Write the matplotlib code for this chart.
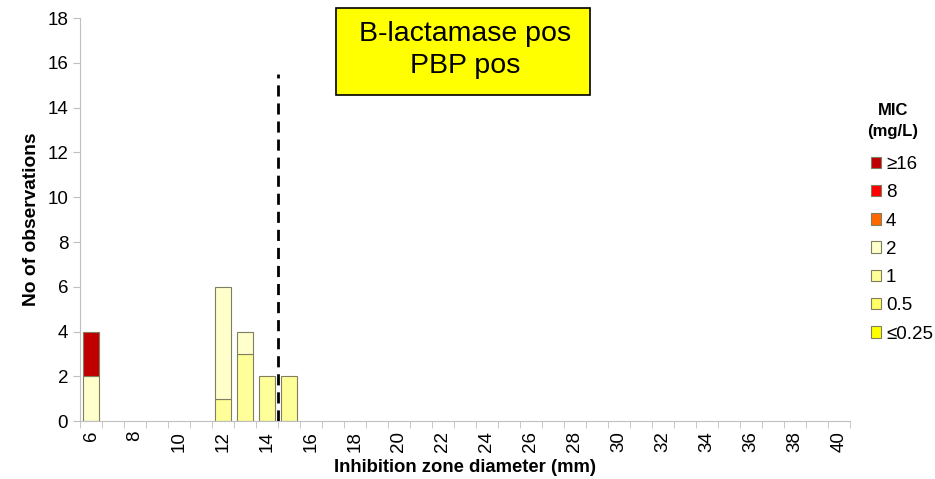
import matplotlib
matplotlib.use("Agg")
import matplotlib.pyplot as plt
from matplotlib.patches import Patch, Rectangle

# ====== DATA ======
diameters = list(range(6, 41))  # inhibition zone diameter (mm)

mic_labels = ["≥16", "8", "4", "2", "1", "0.5", "≤0.25"]
mic_colors = ["#C00000", "#FF0000", "#FF6600", "#FFFFCC", "#FFFF99", "#FFFF66", "#FFFF00"]

#                 6  7  8  9 10 11 12 13 14 15 16 17 18 19 20 21 22 23 24 25 26 27 28 29 30 31 32 33 34 35 36 37 38 39 40
counts_le025 =  [0, 0, 0, 0, 0, 0, 0, 0, 0, 0, 0, 0, 0, 0, 0, 0, 0, 0, 0, 0, 0, 0, 0, 0, 0, 0, 0, 0, 0, 0, 0, 0, 0, 0, 0]
counts_05 =     [0, 0, 0, 0, 0, 0, 0, 0, 0, 0, 0, 0, 0, 0, 0, 0, 0, 0, 0, 0, 0, 0, 0, 0, 0, 0, 0, 0, 0, 0, 0, 0, 0, 0, 0]
counts_1 =      [0, 0, 0, 0, 0, 0, 1, 3, 2, 2, 0, 0, 0, 0, 0, 0, 0, 0, 0, 0, 0, 0, 0, 0, 0, 0, 0, 0, 0, 0, 0, 0, 0, 0, 0]
counts_2 =      [2, 0, 0, 0, 0, 0, 5, 1, 0, 0, 0, 0, 0, 0, 0, 0, 0, 0, 0, 0, 0, 0, 0, 0, 0, 0, 0, 0, 0, 0, 0, 0, 0, 0, 0]
counts_4 =      [0, 0, 0, 0, 0, 0, 0, 0, 0, 0, 0, 0, 0, 0, 0, 0, 0, 0, 0, 0, 0, 0, 0, 0, 0, 0, 0, 0, 0, 0, 0, 0, 0, 0, 0]
counts_8 =      [0, 0, 0, 0, 0, 0, 0, 0, 0, 0, 0, 0, 0, 0, 0, 0, 0, 0, 0, 0, 0, 0, 0, 0, 0, 0, 0, 0, 0, 0, 0, 0, 0, 0, 0]
counts_ge16 =   [2, 0, 0, 0, 0, 0, 0, 0, 0, 0, 0, 0, 0, 0, 0, 0, 0, 0, 0, 0, 0, 0, 0, 0, 0, 0, 0, 0, 0, 0, 0, 0, 0, 0, 0]

breakpoint_mm = 14.5
breakpoint_top = 15.5

# ====== PLOT ======
plt.rcParams["font.family"] = ["Liberation Sans", "DejaVu Sans"]

fig = plt.figure(figsize=(9.35, 4.79), dpi=100)
ax = fig.add_axes([0.0856, 0.121, 0.8234, 0.841])

# stack from lowest MIC at the bottom up to the highest
stack = [counts_le025, counts_05, counts_1, counts_2, counts_4, counts_8, counts_ge16]
stack_colors = mic_colors[::-1]
bottom = [0] * len(diameters)
for vals, col in zip(stack, stack_colors):
    lw = [0.8 if v > 0 else 0 for v in vals]  # no outline on empty segments
    ax.bar(diameters, vals, bottom=bottom, width=0.72, color=col,
           edgecolor="#7F7F60", linewidth=lw, zorder=2)
    bottom = [b + v for b, v in zip(bottom, vals)]

ax.plot([breakpoint_mm, breakpoint_mm], [0, breakpoint_top], color="black",
        linewidth=2, linestyle=(0, (4, 2.5)), zorder=3)

ax.set_xlim(5.5, 40.5)
ax.set_ylim(0, 18)
ax.set_yticks(range(0, 19, 2))
ax.set_xticks(range(6, 41, 2))
ax.set_xticks([x - 0.5 for x in diameters] + [40.5], minor=True)
ax.tick_params(axis="x", which="major", length=0, labelrotation=90, labelsize=13.5, pad=7)
ax.tick_params(axis="x", which="minor", length=5, color="#BFBFBF")
ax.tick_params(axis="y", labelsize=13.5, length=5, color="#BFBFBF")

for side in ["top", "right"]:
    ax.spines[side].set_visible(False)
for side in ["left", "bottom"]:
    ax.spines[side].set_color("#BFBFBF")

ax.set_xlabel("Inhibition zone diameter (mm)", fontsize=13.3, fontweight="bold", labelpad=5)
ax.set_ylabel("No of observations", fontsize=13.8, fontweight="bold", labelpad=5)

# title box
fig.patches.append(Rectangle((336 / 935, 1 - 95 / 479), 254 / 935, 87 / 479,
                             transform=fig.transFigure, facecolor="#FFFF00",
                             edgecolor="black", linewidth=1.2, zorder=5))
fig.text(465 / 935, 1 - 50 / 479, "B-lactamase pos\nPBP pos", ha="center", va="center",
         fontsize=20.5, linespacing=1.3, zorder=6)

# legend
fig.text(893 / 935, 1 - 121 / 479, "MIC\n(mg/L)", ha="center", va="center",
         fontsize=12, fontweight="bold", linespacing=1.45)
handles = [Patch(facecolor=c, edgecolor="#7F7F60", linewidth=0.8) for c in mic_colors]
leg = fig.legend(handles, mic_labels, loc="upper left",
                 bbox_to_anchor=(871 / 935, 1 - 156 / 479),
                 frameon=False, fontsize=13.5, borderaxespad=0,
                 handlelength=0.55, handleheight=0.55, handletextpad=0.25,
                 labelspacing=0.6, borderpad=0)

fig.savefig("out.png", dpi=100)
